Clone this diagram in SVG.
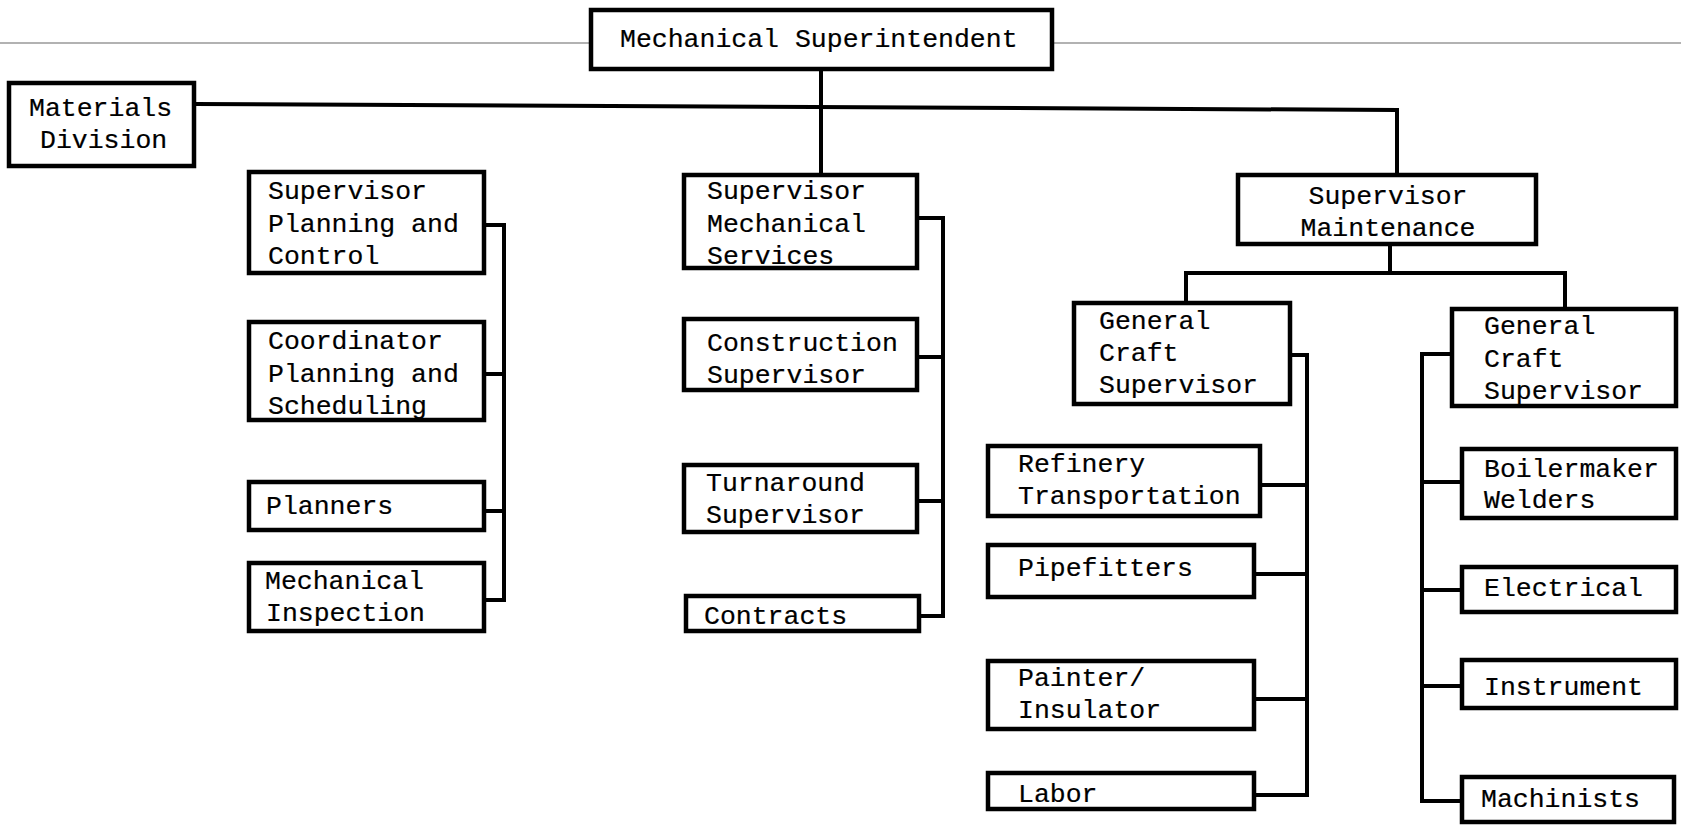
<svg xmlns="http://www.w3.org/2000/svg" width="1681" height="825" viewBox="0 0 1681 825">
<style>
.box{fill:#fff;stroke:#000;stroke-width:4.5}
.t{font-family:"Liberation Mono","Courier New",monospace;font-size:26.5px;fill:#000;stroke:#000;stroke-width:0.2}
.c{fill:none;stroke:#000;stroke-width:4;stroke-linejoin:miter}
</style>
<rect width="1681" height="825" fill="#fff"/>
<line x1="0" y1="43" x2="1681" y2="43" stroke="#999" stroke-width="1.5"/>
<g id="connectors">
<polyline class="c" points="821,69 821,175"/>
<polyline class="c" points="194,104 1397,110 1397,175"/>
<polyline class="c" points="1390,244 1390,273"/>
<polyline class="c" points="1186,303 1186,273 1565,273 1565,309"/>
<polyline class="c" points="484,225 504,225 504,600 484,600"/>
<line class="c" x1="484" y1="374" x2="504" y2="374"/>
<line class="c" x1="484" y1="511" x2="504" y2="511"/>
<polyline class="c" points="917,218 943,218 943,616 919,616"/>
<line class="c" x1="917" y1="357" x2="943" y2="357"/>
<line class="c" x1="917" y1="501" x2="943" y2="501"/>
<polyline class="c" points="1290,355 1307,355 1307,795 1254,795"/>
<line class="c" x1="1260" y1="485" x2="1307" y2="485"/>
<line class="c" x1="1254" y1="574" x2="1307" y2="574"/>
<line class="c" x1="1254" y1="699" x2="1307" y2="699"/>
<polyline class="c" points="1452,354 1422,354 1422,801 1462,801"/>
<line class="c" x1="1422" y1="482" x2="1462" y2="482"/>
<line class="c" x1="1422" y1="590" x2="1462" y2="590"/>
<line class="c" x1="1422" y1="686" x2="1462" y2="686"/>
</g>
<g id="mech-superintendent"><rect class="box" x="591" y="10" width="461" height="59"/><text class="t" x="620" y="47">Mechanical Superintendent</text></g>
<g id="materials-division"><rect class="box" x="9" y="83" width="185" height="83"/><text class="t" x="29" y="116">Materials</text><text class="t" x="40" y="148">Division</text></g>
<g id="sup-planning-control"><rect class="box" x="249" y="172" width="235" height="101"/><text class="t" x="268" y="199">Supervisor</text><text class="t" x="268" y="232">Planning and</text><text class="t" x="268" y="264">Control</text></g>
<g id="coord-planning-scheduling"><rect class="box" x="249" y="322" width="235" height="98"/><text class="t" x="268" y="349">Coordinator</text><text class="t" x="268" y="382">Planning and</text><text class="t" x="268" y="414">Scheduling</text></g>
<g id="planners"><rect class="box" x="249" y="482" width="235" height="48"/><text class="t" x="266" y="514">Planners</text></g>
<g id="mech-inspection"><rect class="box" x="249" y="563" width="235" height="68"/><text class="t" x="265" y="589">Mechanical</text><text class="t" x="266" y="621">Inspection</text></g>
<g id="sup-mech-services"><rect class="box" x="684" y="175" width="233" height="93"/><text class="t" x="707" y="199">Supervisor</text><text class="t" x="707" y="232">Mechanical</text><text class="t" x="707" y="264">Services</text></g>
<g id="construction-sup"><rect class="box" x="684" y="319" width="233" height="71"/><text class="t" x="707" y="351">Construction</text><text class="t" x="707" y="383">Supervisor</text></g>
<g id="turnaround-sup"><rect class="box" x="684" y="465" width="233" height="67"/><text class="t" x="706" y="491">Turnaround</text><text class="t" x="706" y="523">Supervisor</text></g>
<g id="contracts"><rect class="box" x="686" y="596" width="233" height="35"/><text class="t" x="704" y="624">Contracts</text></g>
<g id="sup-maintenance"><rect class="box" x="1238" y="175" width="298" height="69"/><text class="t" x="1388" y="204" text-anchor="middle">Supervisor</text><text class="t" x="1388" y="236" text-anchor="middle">Maintenance</text></g>
<g id="gen-craft-sup-1"><rect class="box" x="1074" y="303" width="216" height="101"/><text class="t" x="1099" y="329">General</text><text class="t" x="1099" y="361">Craft</text><text class="t" x="1099" y="393">Supervisor</text></g>
<g id="gen-craft-sup-2"><rect class="box" x="1452" y="309" width="224" height="97"/><text class="t" x="1484" y="334">General</text><text class="t" x="1484" y="367">Craft</text><text class="t" x="1484" y="399">Supervisor</text></g>
<g id="refinery-transportation"><rect class="box" x="988" y="446" width="272" height="70"/><text class="t" x="1018" y="472">Refinery</text><text class="t" x="1018" y="504">Transportation</text></g>
<g id="pipefitters"><rect class="box" x="988" y="545" width="266" height="52"/><text class="t" x="1018" y="576">Pipefitters</text></g>
<g id="painter-insulator"><rect class="box" x="988" y="661" width="266" height="68"/><text class="t" x="1018" y="686">Painter/</text><text class="t" x="1018" y="718">Insulator</text></g>
<g id="labor"><rect class="box" x="988" y="773" width="266" height="36"/><text class="t" x="1018" y="802">Labor</text></g>
<g id="boilermaker-welders"><rect class="box" x="1462" y="449" width="214" height="69"/><text class="t" x="1484" y="477">Boilermaker</text><text class="t" x="1484" y="508">Welders</text></g>
<g id="electrical"><rect class="box" x="1462" y="567" width="214" height="45"/><text class="t" x="1484" y="596">Electrical</text></g>
<g id="instrument"><rect class="box" x="1462" y="660" width="214" height="48"/><text class="t" x="1484" y="695">Instrument</text></g>
<g id="machinists"><rect class="box" x="1462" y="777" width="212" height="45"/><text class="t" x="1481" y="807">Machinists</text></g>
</svg>
